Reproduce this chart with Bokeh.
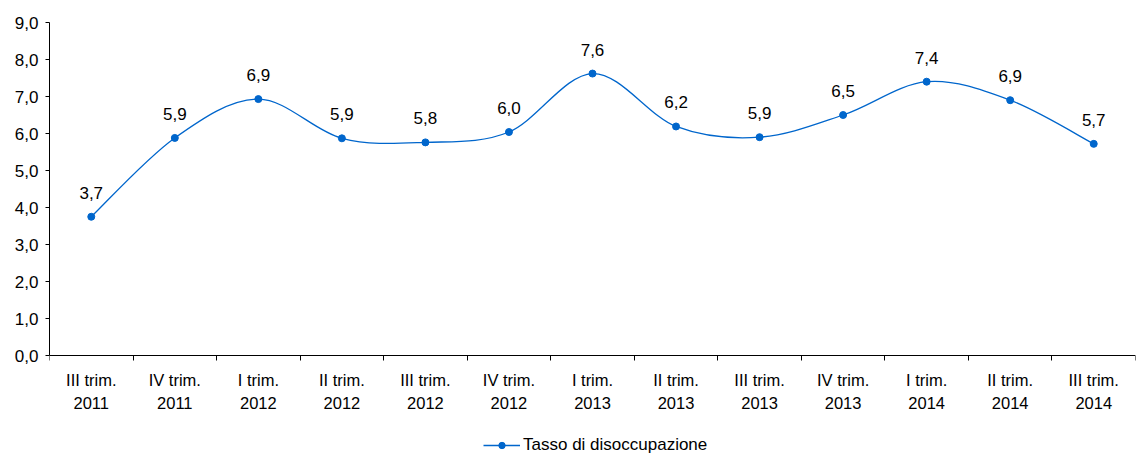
from bokeh.plotting import figure
from bokeh.models import (FixedTicker, Legend, LegendItem, Range1d, ColumnDataSource, LabelSet)
from bokeh.core.properties import value
from bokeh.embed import file_html
from bokeh.resources import INLINE

categories = ["III trim.\n2011", "IV trim.\n2011", "I trim.\n2012", "II trim.\n2012",
              "III trim.\n2012", "IV trim.\n2012", "I trim.\n2013", "II trim.\n2013",
              "III trim.\n2013", "IV trim.\n2013", "I trim.\n2014", "II trim.\n2014",
              "III trim.\n2014"]
values = [3.75, 5.88, 6.93, 5.87, 5.76, 6.04, 7.62, 6.19, 5.90, 6.50, 7.40, 6.90, 5.72]
labels = ["3,7", "5,9", "6,9", "5,9", "5,8", "6,0", "7,6", "6,2", "5,9", "6,5", "7,4", "6,9", "5,7"]
y_ticks = [0, 1, 2, 3, 4, 5, 6, 7, 8, 9]
series_name = "Tasso di disoccupazione"

FONT = "Liberation Sans"
BLUE = "#0066CC"

n = len(categories)
xs = [i + 0.5 for i in range(n)]

# frame spans the whole height below the top border; the value axis runs 0..9
# over the upper 333 px and the area below 0 holds the category labels and legend
Y_MAX = 9
Y_MIN = -Y_MAX * 100 / 333

p = figure(width=1137, height=455, output_backend="svg", toolbar_location=None,
           x_range=Range1d(0, n), y_range=Range1d(Y_MIN, Y_MAX),
           min_border_left=49, min_border_right=2, min_border_top=22, min_border_bottom=0)
p.outline_line_color = None
p.xgrid.grid_line_color = None
p.ygrid.grid_line_color = None
p.background_fill_color = "white"
p.border_fill_color = "white"

# smooth curve (Catmull-Rom style beziers derived from the data)
pts = list(zip(xs, values))
x0, y0, x1, y1, cx0, cy0, cx1, cy1 = [], [], [], [], [], [], [], []
for i in range(n - 1):
    pm = pts[i - 1] if i > 0 else pts[i]
    pa = pts[i]
    pb = pts[i + 1]
    pn = pts[i + 2] if i + 2 < n else pts[i + 1]
    x0.append(pa[0]); y0.append(pa[1]); x1.append(pb[0]); y1.append(pb[1])
    cx0.append(pa[0] + (pb[0] - pm[0]) / 6); cy0.append(pa[1] + (pb[1] - pm[1]) / 6)
    cx1.append(pb[0] - (pn[0] - pa[0]) / 6); cy1.append(pb[1] - (pn[1] - pa[1]) / 6)
bsrc = ColumnDataSource(dict(x0=x0, y0=y0, x1=x1, y1=y1, cx0=cx0, cy0=cy0, cx1=cx1, cy1=cy1))
curve = p.bezier(x0="x0", y0="y0", x1="x1", y1="y1", cx0="cx0", cy0="cy0", cx1="cx1", cy1="cy1",
                 source=bsrc, line_color=BLUE, line_width=1.3)

src = ColumnDataSource(dict(x=xs, y=values, lab=labels))
pts_r = p.scatter("x", "y", source=src, size=7, fill_color=BLUE, line_color=BLUE)

ls = LabelSet(x="x", y="y", text="lab", source=src, y_offset=18, text_align="center",
              text_baseline="alphabetic", text_font=value(FONT), text_font_size=value("17px"),
              text_color="black")
p.add_layout(ls)

# category axis drawn at y = 0
p.xaxis.fixed_location = 0
p.xaxis.ticker = FixedTicker(ticks=xs, minor_ticks=list(range(n + 1)))
p.xaxis.major_label_overrides = {x: c for x, c in zip(xs, categories)}
p.xaxis.major_tick_line_color = None
p.xaxis.major_tick_out = 5
p.xaxis.major_tick_in = 0
p.xaxis.minor_tick_line_color = "black"
p.xaxis.minor_tick_out = 5
p.xaxis.minor_tick_in = 0
p.xaxis.major_label_standoff = 10
p.xaxis.major_label_text_font = FONT
p.xaxis.major_label_text_font_size = "16.5px"
p.xaxis.major_label_text_color = "black"
p.xaxis.major_label_text_line_height = 1.33
p.xaxis.axis_line_color = "black"

p.yaxis.ticker = FixedTicker(ticks=y_ticks, minor_ticks=[])
p.yaxis.bounds = (0, Y_MAX)
p.yaxis.major_label_overrides = {t: f"{t},0" for t in y_ticks}
p.yaxis.major_tick_out = 4
p.yaxis.major_tick_in = 0
p.yaxis.major_label_standoff = 7
p.yaxis.major_label_text_font = FONT
p.yaxis.major_label_text_font_size = "17px"
p.yaxis.major_label_text_color = "black"
p.yaxis.axis_line_color = "black"

legend = Legend(items=[LegendItem(label=series_name, renderers=[curve, pts_r])],
                location=(434, 0), orientation="horizontal",
                glyph_width=37, glyph_height=16, label_text_font=FONT,
                label_text_font_size="17px", label_text_color="black",
                padding=1, margin=0, border_line_color=None,
                background_fill_alpha=0, label_standoff=3)
p.add_layout(legend, "center")

open("out.html", "w").write(file_html(p, INLINE))
